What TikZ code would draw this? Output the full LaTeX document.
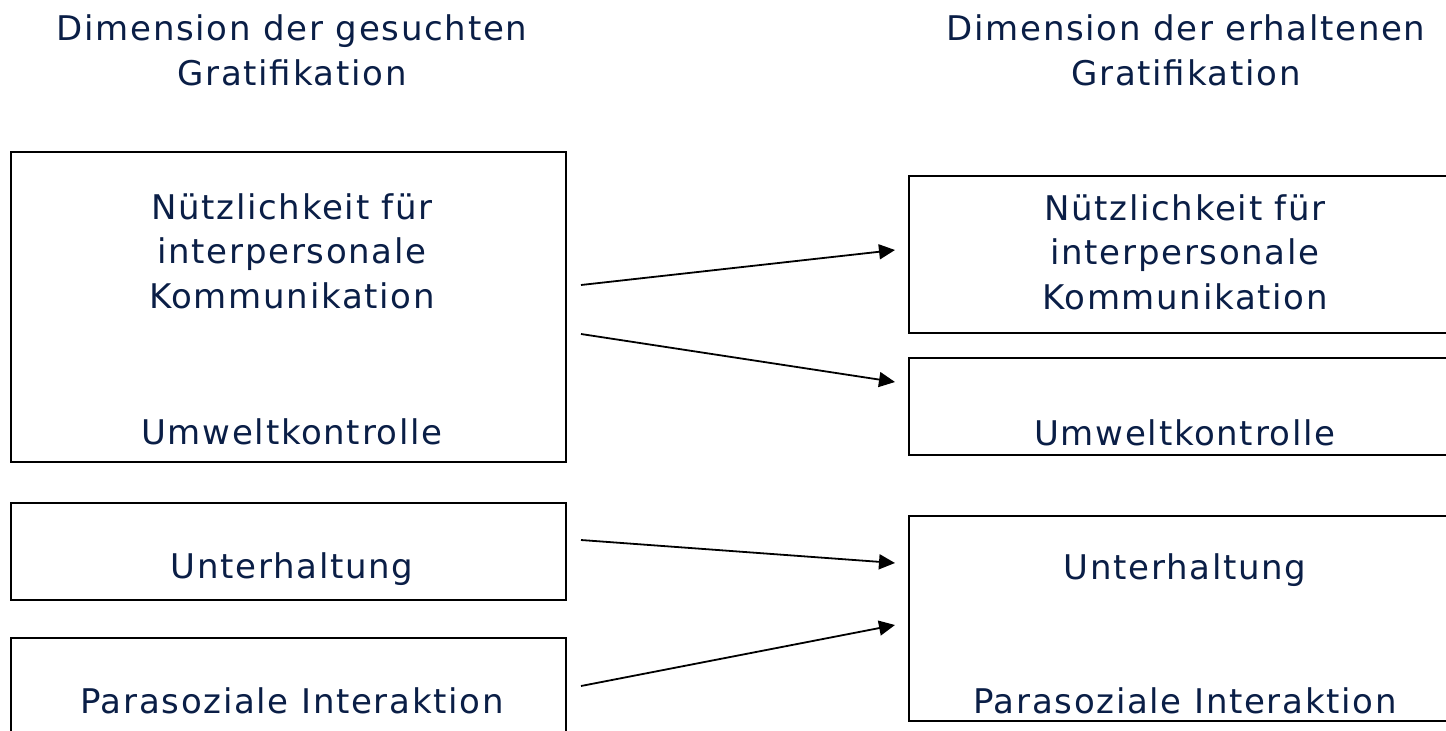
\documentclass[tikz,border=0pt]{standalone}
\usepackage{fontspec}
\setmainfont{DejaVu Sans}[LetterSpace=5]
\usetikzlibrary{arrows.meta}
\definecolor{txt}{RGB}{10,30,70}
\begin{document}
\begin{tikzpicture}[x=1pt,y=-1pt,
  box/.style={draw=black,line width=1.8pt,inner sep=0pt,fill=none},
  lbl/.style={text=txt,font=\fontsize{34}{44}\selectfont,anchor=base,inner sep=0pt},
  conn/.style={line width=1.8pt,-{Triangle[length=16pt,width=15pt]}}]
\useasboundingbox (0,0) rectangle (1446,731);
\clip (0,0) rectangle (1446,731);
% titles
\node[lbl] (tl1) at (292,40) {Dimension der gesuchten};
\node[lbl] (tl2) at (292,85) {Gratifikation};
\node[lbl] (tr1) at (1186,40) {Dimension der erhaltenen};
\node[lbl] (tr2) at (1186,85) {Gratifikation};
% left boxes
\node[box,minimum width=555pt,minimum height=310pt] (L1) at (288.5,307) {};
\node[box,minimum width=555pt,minimum height=97pt] (L2) at (288.5,551.5) {};
\node[box,minimum width=555pt,minimum height=132pt] (L3) at (288.5,704) {};
% right boxes
\node[box,minimum width=552pt,minimum height=157pt] (R1) at (1185,254.5) {};
\node[box,minimum width=552pt,minimum height=97pt] (R2) at (1185,406.5) {};
\node[box,minimum width=552pt,minimum height=205pt] (R3) at (1185,618.5) {};
% left texts
\node[lbl] (l1a) at (292,219) {Nützlichkeit für};
\node[lbl] (l1b) at (292,263.5) {interpersonale};
\node[lbl] (l1c) at (292,308) {Kommunikation};
\node[lbl] (l1d) at (292,444) {Umweltkontrolle};
\node[lbl] (l2) at (292,578) {Unterhaltung};
\node[lbl] (l3) at (292,713) {Parasoziale Interaktion};
% right texts
\node[lbl] (r1a) at (1185,220) {Nützlichkeit für};
\node[lbl] (r1b) at (1185,264.5) {interpersonale};
\node[lbl] (r1c) at (1185,309) {Kommunikation};
\node[lbl] (r2) at (1185,445) {Umweltkontrolle};
\node[lbl] (r3a) at (1185,579) {Unterhaltung};
\node[lbl] (r3b) at (1185,713) {Parasoziale Interaktion};
% connector end points
\coordinate (s1) at (581,285); \coordinate (e1) at (895,250);
\coordinate (s2) at (581,334); \coordinate (e2) at (895,382);
\coordinate (s3) at (581,540); \coordinate (e3) at (895,563);
\coordinate (s4) at (581,686); \coordinate (e4) at (895,625);
\draw[conn] (s1) -- (e1);
\draw[conn] (s2) -- (e2);
\draw[conn] (s3) -- (e3);
\draw[conn] (s4) -- (e4);
\end{tikzpicture}
\end{document}
